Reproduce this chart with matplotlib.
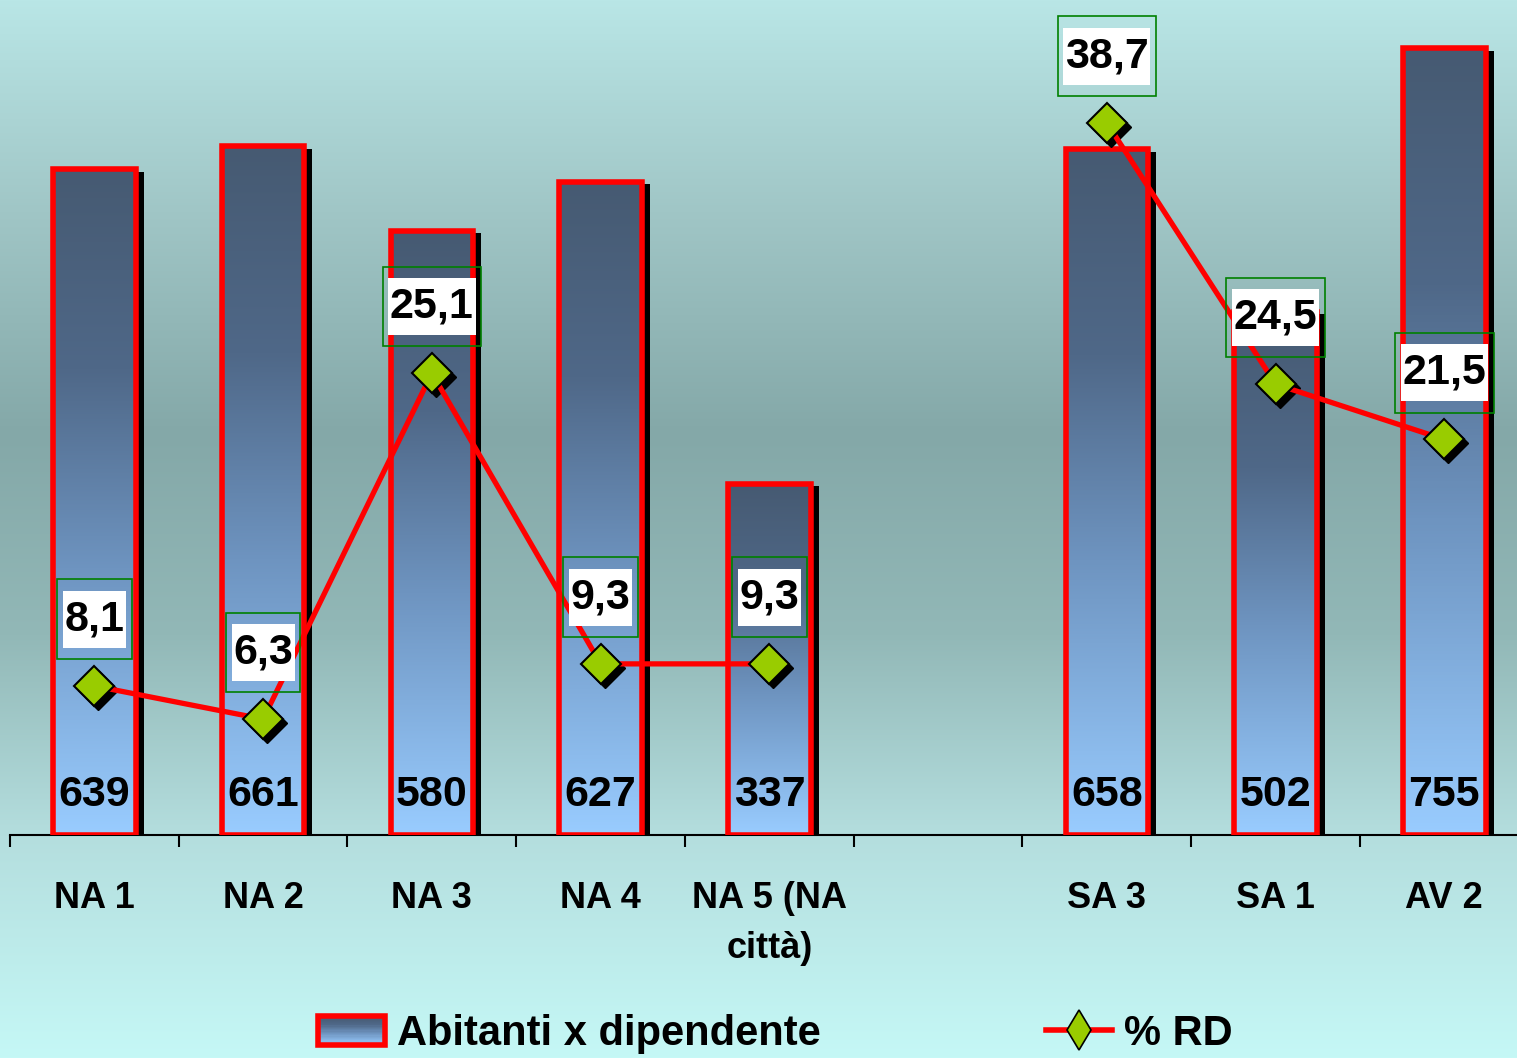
import numpy as np
import matplotlib
matplotlib.use("Agg")
import matplotlib.pyplot as plt
import matplotlib.transforms as mtransforms
from matplotlib.colors import LinearSegmentedColormap
from matplotlib.patches import Rectangle, Patch
from matplotlib.lines import Line2D
from matplotlib.path import Path
from matplotlib.legend_handler import HandlerBase

plt.rcParams['font.family'] = ['Liberation Sans', 'DejaVu Sans']

# dati
categories = ["NA 1", "NA 2", "NA 3", "NA 4", "NA 5 (NA\ncittà)", "", "SA 3", "SA 1", "AV 2"]
abitanti = [639, 661, 580, 627, 337, np.nan, 658, 502, 755]
rd = [8.1, 6.3, 25.1, 9.3, 9.3, np.nan, 38.7, 24.5, 21.5]

W, H = 1517, 1058
fig = plt.figure(figsize=(W / 100, H / 100), dpi=100)

# sfondo sfumato
bg = fig.add_axes([0, 0, 1, 1], zorder=0)
yy = np.linspace(0, 1, H)  # 0 = alto
pos = [0.0, 0.2, 0.41, 0.6, 0.79, 1.0]
cols = np.array([[185, 230, 230], [160, 198, 198], [132, 168, 168],
                 [146, 184, 183], [180, 222, 222], [197, 248, 246]]) / 255
grad_bg = np.stack([np.interp(yy, pos, cols[:, k]) for k in range(3)], axis=1)
bg.imshow(grad_bg[:, None, :], aspect='auto', extent=[0, 1, 0, 1])
bg.set_axis_off()

bar_cmap = LinearSegmentedColormap.from_list(
    "barre", [(0.0, "#99ccff"), (0.4, "#6e94c0"), (0.7, "#4f6888"), (1.0, "#465a72")])


def box_pad(hp, vp):
    # riquadro con margini diversi in orizzontale e verticale (frazioni del font)
    def style(x0, y0, width, height, mutation_size):
        dx, dy = hp * mutation_size, vp * mutation_size
        x0, y0 = x0 - dx, y0 - dy
        x1, y1 = x0 + width + 2 * dx, y0 + height + 2 * dy
        return Path([(x0, y0), (x1, y0), (x1, y1), (x0, y1), (x0, y0)], closed=True)
    return style


ax = fig.add_axes([10 / W, 223 / H, 1518.75 / W, 835 / H], zorder=1)
ax.patch.set_visible(False)

x = np.arange(len(categories))
w = 0.49

shadow_tr = mtransforms.offset_copy(ax.transData, fig=fig, x=8, y=-2.5, units='dots')
ax.bar(x, abitanti, w, color='black', transform=shadow_tr, zorder=1)
bars = ax.bar(x, abitanti, w, facecolor='none', edgecolor='red', linewidth=4, zorder=3)

grad = np.linspace(0, 1, 256).reshape(-1, 1)
for b in bars:
    h = b.get_height()
    if np.isnan(h):
        continue
    im = ax.imshow(grad, extent=[b.get_x(), b.get_x() + w, 0, h], origin='lower',
                   cmap=bar_cmap, aspect='auto', zorder=2)
    im.set_clip_path(b)

for xi, v in zip(x, abitanti):
    if np.isnan(v):
        continue
    ax.annotate(f"{v:.0f}", (xi, 0), xytext=(0, 29), textcoords='offset points',
                ha='center', va='center', fontsize=31, fontweight='bold', zorder=5)

ax.set_xlim(-0.5, 8.5)
ax.set_ylim(0, 835 / 1.042)
ax.set_yticks([])
for s in ['left', 'right', 'top']:
    ax.spines[s].set_visible(False)
ax.spines['bottom'].set_linewidth(1.5)

ax.set_xticks(np.arange(-0.5, 9, 1))
ax.set_xticks(x, categories, minor=True)
ax.tick_params(axis='x', which='major', length=8.6, width=1.5, direction='out', labelbottom=False)
ax.tick_params(axis='x', which='minor', length=0, pad=33)
for lbl in ax.get_xticklabels(minor=True):
    lbl.set_fontsize(26)
    lbl.set_fontweight('bold')
    lbl.set_linespacing(1.55)

# linea % RD
ax2 = ax.twinx()
ax2.set_ylim(0, 835 / 18.4)
ax2.set_yticks([])
for s in ax2.spines.values():
    s.set_visible(False)

mk_shadow = mtransforms.offset_copy(ax2.transData, fig=fig, x=4, y=-4, units='dots')
ax2.plot(x, rd, ls='none', marker='D', ms=20, color='black', transform=mk_shadow, zorder=2)
ax2.plot(x, rd, color='red', lw=3.8, zorder=3)
ax2.plot(x, rd, ls='none', marker='D', ms=20, mfc='#99cc00', mec='black', mew=1.5, zorder=4)

for xi, v in zip(x, rd):
    if np.isnan(v):
        continue
    lab = f"{v:.1f}".replace('.', ',')
    ax2.annotate(lab, (xi, v), xytext=(0, 48), textcoords='offset points',
                 ha='center', va='center', fontsize=31, fontweight='bold', zorder=5,
                 bbox=dict(boxstyle=box_pad(0.17, 0.46), fc='none', ec='green', lw=1.2))
    ax2.annotate(lab, (xi, v), xytext=(0, 48), textcoords='offset points',
                 ha='center', va='center', fontsize=31, fontweight='bold', zorder=6,
                 bbox=dict(boxstyle=box_pad(0.04, 0.2), fc='white', ec='none'))


class GradHandler(HandlerBase):
    def create_artists(self, legend, orig_handle, xdescent, ydescent, width, height, fontsize, trans):
        out = []
        n = 24
        for i in range(n):
            r = Rectangle((-xdescent, -ydescent + height * i / n), width, height / n + 0.5,
                          fc=bar_cmap(i / (n - 1)), ec='none', transform=trans)
            out.append(r)
        out.append(Rectangle((-xdescent, -ydescent), width, height, fc='none',
                             ec='red', lw=4, transform=trans))
        return out


h_bar = Patch(facecolor='#6e94c0', edgecolor='red')
h_line = Line2D([0], [0], color='red', lw=4, marker='d', ms=20, mfc='#99cc00', mec='black', mew=1.2)
fig.legend(handles=[h_bar, h_line], labels=["Abitanti x dipendente", "% RD"],
           loc='center left', bbox_to_anchor=(318 / W, 24 / H), ncol=2, frameon=False,
           handlelength=1.6, handleheight=0.72, handletextpad=0.29, columnspacing=5.4,
           borderpad=0, borderaxespad=0, handler_map={Patch: GradHandler()},
           prop=dict(family='Liberation Sans', weight='bold', size=30))

fig.savefig("out.png", dpi=100)
